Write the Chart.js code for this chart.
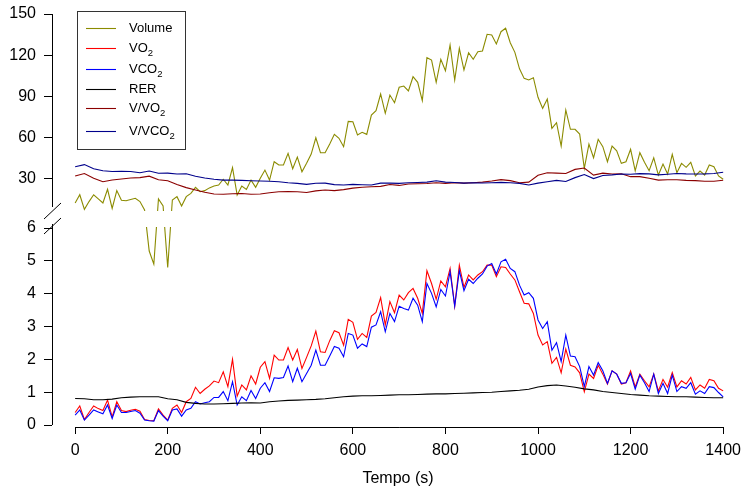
<!DOCTYPE html>
<html>
<head>
<meta charset="utf-8">
<title>Volume, VO2, VCO2, RER</title>
<script src="https://cdn.jsdelivr.net/npm/chart.js@4.4.1/dist/chart.umd.min.js"></script>
<style>
  html, body { margin: 0; padding: 0; background: #fff; }
  canvas { display: block; }
</style>
</head>
<body>
<canvas id="chart" width="744" height="492"></canvas>
<script>
// breath values, one every 10 s
const times = [
  0, 10, 20, 30, 40, 50, 60, 70, 80, 90,
  100, 110, 120, 130, 140, 150, 160, 170, 180, 190,
  200, 210, 220, 230, 240, 250, 260, 270, 280, 290,
  300, 310, 320, 330, 340, 350, 360, 370, 380, 390,
  400, 410, 420, 430, 440, 450, 460, 470, 480, 490,
  500, 510, 520, 530, 540, 550, 560, 570, 580, 590,
  600, 610, 620, 630, 640, 650, 660, 670, 680, 690,
  700, 710, 720, 730, 740, 750, 760, 770, 780, 790,
  800, 810, 820, 830, 840, 850, 860, 870, 880, 890,
  900, 910, 920, 930, 940, 950, 960, 970, 980, 990,
  1000, 1010, 1020, 1030, 1040, 1050, 1060, 1070, 1080, 1090,
  1100, 1110, 1120, 1130, 1140, 1150, 1160, 1170, 1180, 1190,
  1200, 1210, 1220, 1230, 1240, 1250, 1260, 1270, 1280, 1290,
  1300, 1310, 1320, 1330, 1340, 1350, 1360, 1370, 1380, 1390,
  1400]

const volume = [
  12, 18, 7.3, 13, 18, 15, 12, 22, 8, 21,
  14, 13.6, 14.5, 15.4, 13, 6.9, 5.3, 4.9, 14.9, 9.8,
  4.8, 14.1, 16.6, 9.8, 16.6, 19, 23.4, 20.2, 21, 23,
  24.4, 25.1, 29.3, 25.1, 37.8, 17.8, 24.4, 21.9, 28.7, 23.4,
  30, 36, 28.7, 42.1, 39.7, 39.7, 48.2, 37, 45.5, 34.8,
  41, 47.7, 59.6, 48.7, 48.7, 55, 62.1, 59.2, 53.1, 71.6,
  71.3, 61.6, 63.6, 62.1, 76.2, 79.4, 91.6, 77.5, 90.8, 85.2,
  96.5, 97.4, 93.8, 104.2, 100.1, 86.7, 118.1, 116.4, 100.1, 116.9,
  108.6, 127.4, 101.8, 124.9, 109.1, 121.7, 116.9, 122.5, 123, 135.2,
  134.7, 128.1, 137.1, 139.6, 129, 122, 110, 103, 101.8, 103.5,
  89.2, 81.1, 87.9, 66.5, 70.6, 53.6, 79.9, 65.8, 65.8, 62.3,
  37.3, 55, 45, 58.5, 53.1, 42.1, 53.6, 50.1, 40.9, 42.1,
  51.2, 35.5, 48.7, 41.7, 35.5, 45, 32.4, 40.4, 33.1, 47.5,
  34.1, 40.9, 38, 41.7, 31.7, 35.3, 32.4, 39.7, 38.5, 31.7,
  29.3]

const vo2 = [
  0.38, 0.58, 0.17, 0.38, 0.58, 0.5, 0.44, 0.76, 0.25, 0.71,
  0.44, 0.41, 0.45, 0.48, 0.42, 0.17, 0.14, 0.13, 0.49, 0.3,
  0.15, 0.51, 0.61, 0.38, 0.71, 0.81, 1.15, 0.96, 1.09, 1.19,
  1.34, 1.29, 1.62, 1.17, 2.0, 0.88, 1.22, 1.07, 1.5, 1.25,
  1.76, 1.93, 1.42, 2.13, 1.98, 1.98, 2.36, 1.98, 2.3, 1.72,
  2.06, 2.41, 2.86, 2.23, 2.21, 2.57, 2.87, 2.81, 2.43, 3.22,
  3.13, 2.61, 2.79, 2.67, 3.32, 3.43, 3.88, 3.05, 3.76, 3.42,
  3.96, 3.81, 4.03, 4.16, 3.86, 3.4, 4.7, 4.31, 3.83, 4.39,
  4.21, 4.77, 3.62, 4.87, 4.19, 4.57, 4.42, 4.57, 4.67, 4.87,
  4.87, 4.52, 4.82, 4.8, 4.6, 4.42, 4.06, 3.71, 3.69, 3.4,
  2.74, 2.44, 2.54, 1.88, 2.06, 1.59, 2.31, 1.82, 1.77, 1.59,
  1.01, 1.55, 1.42, 1.82, 1.55, 1.25, 1.65, 1.55, 1.25, 1.29,
  1.65, 1.16, 1.55, 1.35, 1.16, 1.55, 1.04, 1.39, 1.15, 1.6,
  1.16, 1.35, 1.25, 1.45, 1.07, 1.22, 1.12, 1.39, 1.35, 1.12,
  1.04]

const vco2 = [
  0.3, 0.46, 0.15, 0.3, 0.46, 0.4, 0.34, 0.61, 0.2, 0.61,
  0.38, 0.38, 0.41, 0.44, 0.36, 0.15, 0.13, 0.12, 0.44, 0.27,
  0.13, 0.46, 0.49, 0.27, 0.46, 0.51, 0.71, 0.64, 0.68, 0.71,
  0.84, 0.84, 1.02, 0.74, 1.32, 0.61, 0.86, 0.74, 1.05, 0.81,
  1.12, 1.29, 1.02, 1.44, 1.42, 1.45, 1.8, 1.32, 1.73, 1.32,
  1.57, 1.82, 2.28, 1.82, 1.82, 2.1, 2.39, 2.34, 2.08, 2.79,
  2.74, 2.34, 2.47, 2.39, 2.98, 3.05, 3.45, 2.84, 3.4, 3.15,
  3.62, 3.55, 3.5, 3.86, 3.65, 3.15, 4.31, 4.01, 3.6, 4.13,
  3.93, 4.67, 3.62, 4.7, 4.09, 4.44, 4.31, 4.47, 4.6, 4.84,
  4.92, 4.6, 4.97, 5.05, 4.77, 4.67, 4.26, 3.96, 4.03, 3.86,
  3.2, 2.94, 3.15, 2.28, 2.51, 1.93, 2.74, 2.1, 2.08, 1.78,
  1.17, 1.78, 1.52, 1.9, 1.65, 1.27, 1.65, 1.55, 1.27, 1.29,
  1.57, 1.09, 1.52, 1.29, 1.02, 1.55, 0.96, 1.27, 0.96, 1.52,
  1.02, 1.17, 1.12, 1.29, 0.94, 1.04, 0.96, 1.17, 1.14, 0.99,
  0.86]

// smoother series, one every 20 s
const times20 = [
  0, 20, 40, 60, 80, 100, 120, 140, 160, 180,
  200, 220, 240, 260, 280, 300, 320, 340, 360, 380,
  400, 420, 440, 460, 480, 500, 520, 540, 560, 580,
  600, 620, 640, 660, 680, 700, 720, 740, 760, 780,
  800, 820, 840, 860, 880, 900, 920, 940, 960, 980,
  1000, 1020, 1040, 1060, 1080, 1100, 1120, 1140, 1160, 1180,
  1200, 1220, 1240, 1260, 1280, 1300, 1320, 1340, 1360, 1380,
  1400]

const rer = [
  0.81, 0.8, 0.77, 0.77, 0.79, 0.83, 0.85, 0.86, 0.86, 0.86,
  0.8, 0.77, 0.69, 0.66, 0.64, 0.64, 0.65, 0.66, 0.67, 0.68,
  0.67, 0.71, 0.73, 0.75, 0.76, 0.77, 0.78, 0.8, 0.83, 0.86,
  0.88, 0.89, 0.89, 0.9, 0.91, 0.92, 0.92, 0.93, 0.94, 0.95,
  0.95, 0.96, 0.97, 0.98, 0.99, 1.0, 1.02, 1.04, 1.06, 1.09,
  1.16, 1.2, 1.22, 1.19, 1.15, 1.1, 1.07, 1.02, 0.99, 0.96,
  0.93, 0.91, 0.89, 0.88, 0.87, 0.86, 0.86, 0.85, 0.84, 0.83,
  0.83]

const vevo2 = [
  31.7, 33.5, 30, 27.5, 28.8, 29.5, 30.2, 30.5, 31.6, 29,
  28.2, 25.5, 23.2, 21.5, 19.8, 18.5, 18.3, 18.7, 18.9, 18.4,
  18.5, 19.5, 20.2, 20.3, 20.2, 19.6, 20.8, 21.5, 21, 21.7,
  22.8, 23.5, 23.8, 24.1, 25.5, 24.8, 25.8, 26, 26.2, 26.8,
  26.3, 26.8, 26.5, 26.8, 27.2, 28, 29, 28.3, 26.8, 27.2,
  32.2, 34.1, 33.8, 33.5, 36.5, 37.5, 32.3, 33.8, 33.1, 33.3,
  31.2, 31.2, 30, 28.7, 28.9, 28.9, 28.5, 28.3, 27.8, 27.8,
  28.6]

const vevco2 = [
  38.5, 40, 37, 35.5, 35, 35.2, 35, 34.1, 35.3, 33.7,
  33.8, 33.1, 33.3, 31.5, 30.2, 29.3, 28.7, 28.7, 28.5, 28.2,
  28, 27.8, 27.5, 26.8, 26.3, 25.6, 26.4, 26.5, 25.4, 25.1,
  25.6, 25.3, 25.1, 26.5, 26.5, 26.3, 26.7, 26.9, 27.2, 28.2,
  27.2, 26.9, 26.5, 26.7, 26.6, 26.8, 27, 26.7, 26.3, 25.1,
  26.5, 27.5, 28.5, 27.7, 30.5, 32.8, 29.8, 32.1, 32.5, 33.1,
  33, 33.4, 33.2, 32.5, 33, 33.5, 33.2, 33.1, 33.2, 33.5,
  34.4]

const xTicks = [0, 200, 400, 600, 800, 1000, 1200, 1400]
const yTicks = [0, 1, 2, 3, 4, 5, 6, 30, 60, 90, 120, 150]

// broken y axis: lower part 0-6, upper part 6-150 (start/end are fractions of the axis height)
const ySegments = [
  { from: -0.06, to: 6.05, start: 0, end: 0.4754 },
  { from: 6.1, to: 156.6, start: 0.5118, end: 1 }
]

const LinearScale = Chart.registry.getScale('linear')

class BrokenScale extends LinearScale {
  getPixelForValue (value) {
    if (value === null || value === undefined || isNaN(value)) return NaN
    const [lo, hi] = ySegments
    let f
    if (value <= lo.to) {
      f = lo.start + (value - lo.from) / (lo.to - lo.from) * (lo.end - lo.start)
    } else if (value >= hi.from) {
      f = hi.start + (value - hi.from) / (hi.to - hi.from) * (hi.end - hi.start)
    } else {
      f = lo.end + (value - lo.to) / (hi.from - lo.to) * (hi.start - lo.end)
    }
    return this.bottom - f * (this.bottom - this.top)
  }

  getValueForPixel (pixel) {
    const [lo, hi] = ySegments
    const f = (this.bottom - pixel) / (this.bottom - this.top)
    if (f <= lo.end) return lo.from + (f - lo.start) / (lo.end - lo.start) * (lo.to - lo.from)
    if (f >= hi.start) return hi.from + (f - hi.start) / (hi.end - hi.start) * (hi.to - hi.from)
    return lo.to + (f - lo.end) / (hi.start - lo.end) * (hi.from - lo.to)
  }
}
BrokenScale.id = 'broken'
BrokenScale.defaults = LinearScale.defaults
Chart.register(BrokenScale)

const FONT = "'Liberation Sans', Arial, Helvetica, sans-serif"
const legendRows = [28, 48, 69, 89, 108, 131]

function pairs (xs, ys) {
  return xs.map((x, i) => ({ x, y: ys[i] }))
}

// label with a trailing subscript 2
function drawLabel (ctx, text, x, y) {
  const sub = text.endsWith('2')
  const base = sub ? text.slice(0, -1) : text
  ctx.font = '13px ' + FONT
  ctx.textBaseline = 'middle'
  ctx.textAlign = 'left'
  ctx.fillText(base, x, y)
  if (sub) {
    const w = ctx.measureText(base).width
    ctx.font = '9.5px ' + FONT
    ctx.fillText('2', x + w, y + 5)
  }
}

const brokenAxis = {
  id: 'brokenAxis',
  afterDatasetsDraw (chart) {
    const { ctx, chartArea: a, scales: { x, y } } = chart
    const gapTop = Math.round(y.getPixelForValue(ySegments[1].from))
    const gapBottom = Math.round(y.getPixelForValue(ySegments[0].to))
    const ax = Math.round(a.left) + 0.5
    const ay = Math.round(a.bottom) + 0.5
    ctx.save()

    // hide what falls inside the gap
    ctx.fillStyle = '#fff'
    ctx.fillRect(a.left, gapTop, a.right - a.left, gapBottom - gapTop + 1)

    ctx.strokeStyle = '#000'
    ctx.lineWidth = 1
    ctx.beginPath()
    ctx.moveTo(ax, y.getPixelForValue(150))
    ctx.lineTo(ax, gapTop - 4)
    ctx.moveTo(ax, gapBottom - 2)
    ctx.lineTo(ax, y.getPixelForValue(0))
    for (const c of [gapTop, gapBottom]) {
      ctx.moveTo(ax - 8.5, c + 8)
      ctx.lineTo(ax + 8.5, c - 8)
    }
    ctx.moveTo(x.getPixelForValue(0), ay)
    ctx.lineTo(x.getPixelForValue(1400), ay)
    ctx.stroke()

    // legend
    ctx.fillStyle = '#fff'
    ctx.fillRect(77.5, 11.5, 108, 138)
    ctx.strokeStyle = '#333'
    ctx.strokeRect(77.5, 11.5, 108, 138)
    chart.data.datasets.forEach((ds, i) => {
      const ry = legendRows[i]
      ctx.strokeStyle = ds.borderColor
      ctx.lineWidth = 1.1
      ctx.beginPath()
      ctx.moveTo(86, ry + 0.5)
      ctx.lineTo(116, ry + 0.5)
      ctx.stroke()
      ctx.fillStyle = '#000'
      drawLabel(ctx, ds.label, 129, ry)
    })
    ctx.restore()
  }
}

const series = [
  { label: 'Volume', xs: times, ys: volume, color: '#8B8B00' },
  { label: 'VO2', xs: times, ys: vo2, color: '#FF0000' },
  { label: 'VCO2', xs: times, ys: vco2, color: '#0000FF' },
  { label: 'RER', xs: times20, ys: rer, color: '#000000' },
  { label: 'V/VO2', xs: times20, ys: vevo2, color: '#8B0000' },
  { label: 'V/VCO2', xs: times20, ys: vevco2, color: '#00008B' }
]

const tickFont = { family: FONT, size: 16 }

// eslint-disable-next-line no-unused-vars, no-undef
const chart = new Chart(document.querySelector('#chart'), {
  type: 'line',
  data: {
    datasets: series.map((s, i) => ({
      label: s.label,
      data: pairs(s.xs, s.ys),
      borderColor: s.color,
      borderWidth: 1.1,
      pointRadius: 0,
      tension: 0,
      order: series.length - i
    }))
  },
  options: {
    responsive: false,
    animation: false,
    events: [],
    layout: { padding: { top: 5, right: 0, bottom: 0, left: 0 } },
    plugins: {
      legend: { display: false },
      tooltip: { enabled: false }
    },
    scales: {
      x: {
        type: 'linear',
        min: -50,
        max: 1445,
        afterBuildTicks: s => { s.ticks = xTicks.map(v => ({ value: v })) },
        afterFit: s => { s.height = 65; s.paddingLeft = 0; s.paddingRight = 0 },
        grid: { display: true, drawOnChartArea: false, drawTicks: true, tickLength: 7, color: '#000', lineWidth: 1 },
        border: { display: false },
        ticks: { font: tickFont, color: '#000', padding: 7, maxRotation: 0, autoSkip: false, callback: v => String(v) },
        title: { display: true, text: 'Tempo (s)', font: tickFont, color: '#000', padding: { top: 0, bottom: 4 } }
      },
      y: {
        type: 'broken',
        min: -0.06,
        max: 156.6,
        afterBuildTicks: s => { s.ticks = yTicks.map(v => ({ value: v })) },
        afterFit: s => { s.width = 52; s.paddingTop = 0; s.paddingBottom = 0 },
        grid: { display: true, drawOnChartArea: false, drawTicks: true, tickLength: 8, color: '#000', lineWidth: 1 },
        border: { display: false },
        ticks: { font: tickFont, color: '#000', padding: 8, autoSkip: false, callback: v => String(v) }
      }
    }
  },
  plugins: [brokenAxis]
})
</script>
</body>
</html>
